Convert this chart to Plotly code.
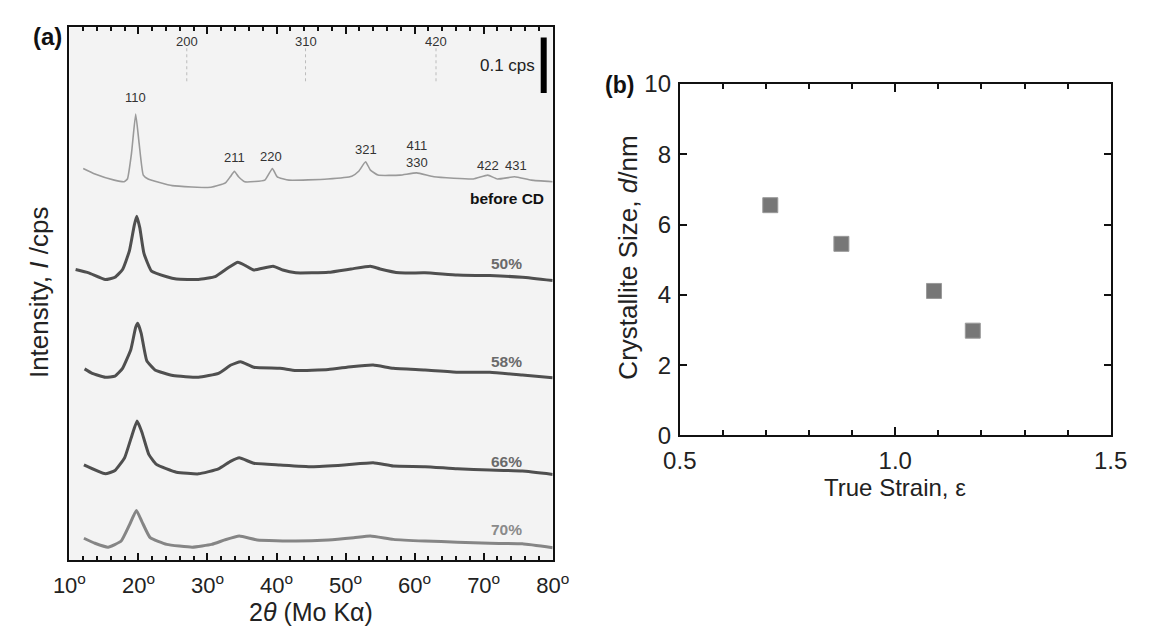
import plotly.graph_objects as go

# ---------------- Panel (a): XRD patterns (2theta in degrees, intensity in cps) ----------------
two_theta_before = [12.0, 13.7, 16.5, 17.9, 18.4, 19.0, 19.6, 20.1, 20.7, 21.4, 24.9, 30.5, 32.6, 33.3,
                    33.9, 34.5, 35.4, 38.3, 39.4, 40.1, 41.8, 47.4, 50.9, 51.9, 52.9, 53.6, 54.7, 57.9,
                    60.3, 62.8, 68.5, 70.6, 72.0, 74.5, 76.9, 80.0]
int_before = [0.055, 0.045, 0.034, 0.031, 0.036, 0.083, 0.153, 0.100, 0.043, 0.036, 0.024, 0.021, 0.029,
              0.040, 0.050, 0.040, 0.031, 0.034, 0.055, 0.040, 0.034, 0.036, 0.041, 0.050, 0.067, 0.052,
              0.043, 0.043, 0.047, 0.040, 0.036, 0.043, 0.036, 0.040, 0.034, 0.031]

two_theta_50 = [10.9, 12.8, 15.2, 16.6, 17.7, 18.7, 19.4, 19.75, 20.2, 20.8, 21.9, 24.1, 25.5, 28.7, 31.1,
                33.0, 34.4, 35.5, 36.7, 39.5, 40.9, 42.8, 47.5, 50.8, 53.6, 55.0, 57.8, 61.5, 66.2, 70.9,
                75.6, 80.0]
int_50 = [0.073, 0.067, 0.055, 0.059, 0.073, 0.107, 0.153, 0.169, 0.148, 0.102, 0.070, 0.060, 0.056, 0.055,
          0.060, 0.076, 0.086, 0.080, 0.072, 0.079, 0.072, 0.067, 0.068, 0.074, 0.079, 0.074, 0.067, 0.067,
          0.063, 0.062, 0.059, 0.053]

two_theta_58 = [12.2, 13.3, 15.2, 16.6, 17.7, 18.9, 19.6, 19.9, 20.4, 21.2, 22.4, 25.0, 28.7, 31.6, 33.4,
                34.8, 36.7, 40.5, 42.8, 47.5, 50.8, 54.0, 56.9, 61.5, 66.2, 70.9, 75.6, 80.0]
int_58 = [0.074, 0.066, 0.059, 0.061, 0.075, 0.109, 0.149, 0.156, 0.138, 0.089, 0.072, 0.062, 0.059, 0.066,
          0.081, 0.087, 0.077, 0.075, 0.071, 0.073, 0.078, 0.081, 0.075, 0.072, 0.068, 0.068, 0.063, 0.058]

two_theta_66 = [12.1, 15.2, 16.6, 18.0, 18.9, 19.8, 20.5, 21.5, 22.6, 25.5, 28.7, 31.6, 33.4, 34.6, 36.7,
                40.5, 45.1, 49.8, 54.0, 56.9, 61.5, 66.2, 70.9, 75.6, 80.0]
int_66 = [0.081, 0.065, 0.071, 0.094, 0.128, 0.160, 0.140, 0.100, 0.082, 0.068, 0.065, 0.074, 0.088, 0.094,
          0.084, 0.081, 0.078, 0.081, 0.085, 0.079, 0.078, 0.074, 0.072, 0.070, 0.064]

two_theta_70 = [12.1, 13.7, 15.6, 17.5, 18.7, 19.7, 20.5, 21.7, 24.1, 27.8, 30.6, 32.5, 34.6, 37.2, 42.8,
                47.5, 51.2, 53.6, 56.9, 61.5, 66.2, 70.9, 75.6, 80.0]
int_70 = [0.039, 0.030, 0.023, 0.034, 0.063, 0.089, 0.069, 0.040, 0.028, 0.023, 0.028, 0.036, 0.043, 0.036,
          0.034, 0.036, 0.040, 0.043, 0.037, 0.034, 0.032, 0.030, 0.029, 0.022]

curve_names = ["before CD", "50%", "58%", "66%", "70%"]
curve_offsets = [0.65, 0.45, 0.27, 0.09, 0.0]   # vertical stacking offsets (cps)
curve_colors = ["#9a9a9a", "#4f4f4f", "#4f4f4f", "#4f4f4f", "#858585"]
curve_widths = [1.6, 3.0, 3.0, 3.0, 3.0]

# reference reflection labels (hkl) and positions
ref_hkl = ["200", "310", "420"]
ref_two_theta = [27.0, 44.2, 63.1]
peak_hkl = ["110", "211", "220", "321", "411<br>330", "422", "431"]
peak_two_theta = [19.6, 33.9, 39.2, 52.9, 60.3, 70.6, 74.7]

x_ticks_a = [10, 20, 30, 40, 50, 60, 70, 80]

# ---------------- Panel (b): crystallite size vs true strain ----------------
true_strain = [0.71, 0.875, 1.09, 1.18]
crystallite_size = [6.55, 5.45, 4.11, 2.98]

FONT = "Arial, Liberation Sans, sans-serif"

fig = go.Figure()

series = [(two_theta_before, int_before), (two_theta_50, int_50), (two_theta_58, int_58),
          (two_theta_66, int_66), (two_theta_70, int_70)]
for (tt, inten), name, off, col, w in zip(series, curve_names, curve_offsets, curve_colors, curve_widths):
    fig.add_trace(go.Scatter(x=tt, y=[v + off for v in inten], mode="lines", name=name,
                             line=dict(color=col, width=w, shape="spline", smoothing=0.4),
                             xaxis="x", yaxis="y", showlegend=False))

fig.add_trace(go.Scatter(x=true_strain, y=crystallite_size, mode="markers",
                         marker=dict(symbol="square", size=15, color="#777777",
                                     line=dict(color="#9a9a9a", width=1)),
                         xaxis="x2", yaxis="y2", showlegend=False))

ann = []
# curve labels
label_y = [0.650, 0.533, 0.357, 0.178, 0.055]
label_x = [79.0, 75.9, 75.9, 75.9, 75.9]
label_colors = ["#111111", "#6a6a6a", "#6a6a6a", "#6a6a6a", "#8a8a8a"]
for name, lx, ly, lc in zip(curve_names, label_x, label_y, label_colors):
    ann.append(dict(x=lx, y=ly, xref="x", yref="y",
                    text="<b>%s</b>" % name, showarrow=False, xanchor="right", yanchor="middle",
                    font=dict(family=FONT, size=15.5, color=lc)))
# peak labels
peak_label_y = [0.833, 0.724, 0.726, 0.740, 0.731, 0.710, 0.710]
for h, t, py in zip(peak_hkl, peak_two_theta, peak_label_y):
    ann.append(dict(x=t, y=py, xref="x", yref="y", text=h, showarrow=False,
                    xanchor="center", yanchor="middle",
                    font=dict(family=FONT, size=13, color="#333333")))
# reference reflection labels
for h, t in zip(ref_hkl, ref_two_theta):
    ann.append(dict(x=t, y=0.933, xref="x", yref="y", text=h, showarrow=False,
                    xanchor="center", yanchor="middle",
                    font=dict(family=FONT, size=13, color="#333333")))
ann.append(dict(x=77.7, y=0.891, xref="x", yref="y", text="0.1 cps", showarrow=False,
                xanchor="right", yanchor="middle",
                font=dict(family=FONT, size=17, color="#222222")))


def paper_text(px, py, text, size, angle=0, color="#222222"):
    return dict(x=px / 1150, y=1 - py / 639, xref="paper", yref="paper", text=text,
                textangle=angle, showarrow=False, xanchor="center", yanchor="middle",
                font=dict(family=FONT, size=size, color=color))


ann.append(paper_text(31, 23, "<b>(a)</b>", 24, color="#111111"))
ann.append(paper_text(621, 74, "<b>(b)</b>", 23, color="#111111"))
ann.append(paper_text(22, 290, "Intensity, <i>I</i> /cps", 26, angle=-90))
ann.append(paper_text(303, 624, "2<i>θ</i> (Mo Kα)", 25))
ann.append(paper_text(630, 254, "Crystallite Size, <i>d</i>/nm", 26, angle=-90))
ann.append(paper_text(905, 494, "True Strain, ε", 24))

shapes = []
for t in ref_two_theta:
    shapes.append(dict(type="line", xref="x", yref="y", x0=t, x1=t, y0=0.862, y1=0.922,
                       line=dict(color="#bbbbbb", width=1, dash="dot")))
# 0.1 cps scale bar
scale_top = 0.941
shapes.append(dict(type="line", xref="x", yref="y", x0=78.7, x1=78.7, y0=scale_top - 0.1, y1=scale_top,
                   line=dict(color="#000000", width=6)))

tick_font_a = dict(family=FONT, size=22, color="#222222")
tick_font_b = dict(family=FONT, size=24, color="#222222")

fig.update_layout(
    width=1150, height=639,
    margin=dict(l=0, r=0, t=0, b=0),
    paper_bgcolor="white",
    plot_bgcolor="white",
    annotations=ann,
    shapes=shapes,
    xaxis=dict(domain=[54 / 1150, 552 / 1150], anchor="y", range=[10, 80],
               tickvals=x_ticks_a, ticktext=["%d<sup>o</sup>" % v for v in x_ticks_a],
               ticks="inside", ticklen=7, tickwidth=2, tickcolor="#111111",
               minor=dict(ticks="inside", dtick=2, tick0=10, ticklen=4, tickwidth=1.5, tickcolor="#111111"),
               showline=True, linecolor="#111111", linewidth=2, mirror="allticks",
               showgrid=False, zeroline=False, tickfont=tick_font_a, ticklabelstandoff=5),
    yaxis=dict(domain=[(639 - 570) / 639, (639 - 14) / 639], anchor="x", range=[0, 0.959],
               showticklabels=False, ticks="", showline=True, linecolor="#111111", linewidth=2,
               mirror=True, showgrid=False, zeroline=False),
    xaxis2=dict(domain=[683 / 1150, 1127 / 1150], anchor="y2", range=[0.5, 1.5],
                tickvals=[0.5, 1.0, 1.5], ticktext=["0.5", "1.0", "1.5"],
                ticks="inside", ticklen=8, tickwidth=2, tickcolor="#111111",
                minor=dict(ticks="inside", dtick=0.1, tick0=0.5, ticklen=5, tickwidth=2, tickcolor="#111111"),
                showline=True, linecolor="#111111", linewidth=2, mirror="allticks",
                showgrid=False, zeroline=False, tickfont=tick_font_b, ticklabelstandoff=3),
    yaxis2=dict(domain=[(639 - 440) / 639, (639 - 73) / 639], anchor="x2", range=[0, 10],
                tickvals=[0, 2, 4, 6, 8, 10], ticks="inside", ticklen=7, tickwidth=2, tickcolor="#111111",
                showline=True, linecolor="#111111", linewidth=2, mirror="allticks",
                showgrid=False, zeroline=False, tickfont=tick_font_b, ticklabelstandoff=2),
)

# light grey background for panel (a) only
fig.add_shape(type="rect", xref="x domain", yref="y domain", x0=0, x1=1, y0=0, y1=1,
              fillcolor="#f3f3f3", line=dict(width=0), layer="below")

fig.write_html("out.html")
